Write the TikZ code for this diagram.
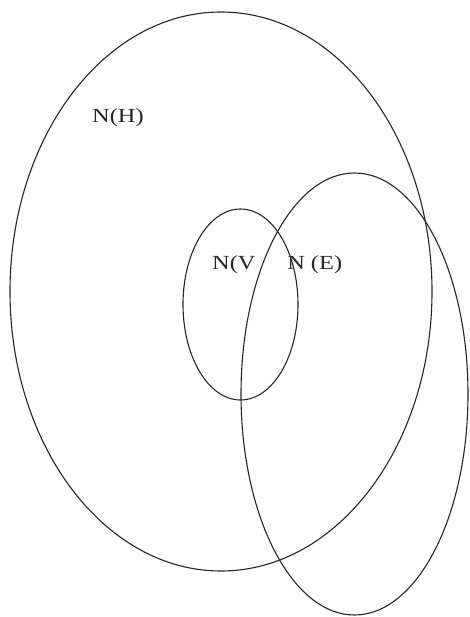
\documentclass[tikz,border=0pt]{standalone}
\usepackage{fontspec}
\setmainfont{Liberation Serif}
\begin{document}
\begin{tikzpicture}[x=1pt,y=-1pt,
  setline/.style={draw=black!85,line width=1.1pt},
  lbl/.style={inner sep=0pt,anchor=base west,xscale=1.22,font=\fontsize{20}{22}\selectfont,text=black!85}]
\useasboundingbox (0,0) rectangle (469,617);
\fill[white] (0,0) rectangle (469,617);
\draw[setline] (221,291.5) ellipse [x radius=211, y radius=279.5];
\draw[setline] (240.5,304.5) ellipse [x radius=57.5, y radius=95.5];
\draw[setline] (354.5,394) ellipse [x radius=113.5, y radius=221];
\node[lbl] (nh) at (92,123) {N(H)};
\node[lbl] (nv) at (212,269) {N(V};
\node[lbl] (ne) at (287,269) {N (E)};
\end{tikzpicture}
\end{document}
